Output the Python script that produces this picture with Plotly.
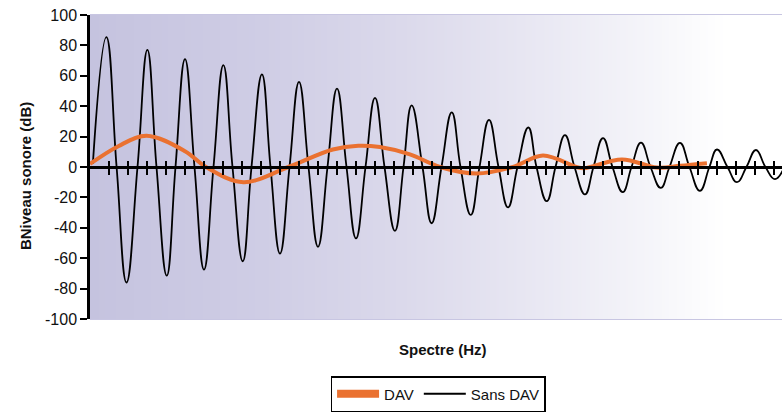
import plotly.graph_objects as go

# ---- data ----
y_tick_vals = [-100, -80, -60, -40, -20, 0, 20, 40, 60, 80, 100]
y_tick_text = ["-100", "-80", "-60", "-40", "-20", "0", "20", "40", "60", "80", "100"]
x_tick_vals = list(range(1, 37))

# "Sans DAV" (black): extrema and zero crossings
sans_x = [0.15, 0.86, 1.4, 1.92, 2.5, 3.02, 3.5, 4.04, 4.5, 5.0, 5.5, 6.0, 6.5,
          7.02, 7.5, 8.04, 8.5, 9.05, 9.5, 10.0, 10.5, 11.0, 11.5, 12.0, 12.5,
          13.0, 13.5, 14.0, 14.5, 15.0, 15.5, 16.05, 16.5, 16.93, 17.5, 17.98,
          18.5, 19.04, 19.5, 20.04, 20.5, 21.0, 21.5, 22.0, 22.5, 23.07, 23.5,
          24.04, 24.5, 25.0, 25.5, 26.05, 26.5, 27.0, 27.5, 28.04, 28.5, 29.0,
          29.5, 30.04, 30.5, 31.05, 31.55, 32.1, 32.6, 33.0, 33.55, 34.05, 34.55,
          35.05, 35.55, 36.05, 36.55]
sans_y = [2, 85.5, 0, -76, 0, 77, 0, -71.5, 0, 71, 0, -67.5, 0,
          67, 0, -62, 0, 61, 0, -57, 0, 56, 0, -52.5, 0,
          51.5, 0, -47, 0, 45.5, 0, -42, 0, 40.5, 0, -37,
          0, 36, 0, -31.5, 0, 31, 0, -26.5, 0, 26, 0,
          -22.5, 0, 21, 0, -18, 0, 19, 0, -16.5, 0, 16,
          0, -13.7, 0, 15.9, 0, -15.7, 0, 11.5, 0, -10, 0,
          11.2, 0, -8, 0]

# "DAV" (orange)
dav_x = [0.0, 1.49, 2.98, 5.0, 6.1, 8.07, 10.44, 12.78, 14.12, 15.26, 16.84,
         18.42, 20.35, 22.26, 23.84, 25.6, 26.0, 28.0, 29.84, 31.05, 32.47]
dav_y = [2, 13.7, 20.6, 10.4, 0, -10, 0, 11.5, 14, 13.1, 8.3,
         0, -4.3, 0, 7.5, 0, -0.8, 5, -0.4, 0.8, 2.5]

series_names = ["DAV", "Sans DAV"]

# background gradient stops (position along x, colour level)
bg_x = [0, 6, 12, 18, 24, 30, 36.42]
bg_level = [0.0, 0.165, 0.33, 0.494, 0.659, 0.824, 1.0]

X_MAX = 692 / 19.0
FONT = "Liberation Sans, Arial, sans-serif"
ORANGE = "#EA7130"
TXT = "#111111"

fig = go.Figure()

fig.add_trace(go.Heatmap(
    x=bg_x, y=[-100, 100], z=[bg_level, bg_level],
    zsmooth="best", showscale=False, hoverinfo="skip",
    zmin=0, zmax=1,
    colorscale=[[0.0, "#C5C3DF"], [0.25, "#CFCDE5"], [0.45, "#DBD9EB"],
                [0.65, "#E9E8F3"], [0.82, "#F6F6FA"], [0.92, "#FFFFFF"], [1.0, "#FFFFFF"]],
))

fig.add_trace(go.Scatter(
    x=sans_x, y=sans_y, mode="lines", showlegend=False,
    line=dict(color="black", width=1.8, shape="spline", smoothing=1.3),
))

fig.add_trace(go.Scatter(
    x=dav_x, y=dav_y, mode="lines", showlegend=False, xaxis="x2",
    line=dict(color=ORANGE, width=4, shape="spline", smoothing=1.0),
))

# legend entries
fig.add_trace(go.Scatter(x=[None], y=[None], mode="lines", name=series_names[0],
                         line=dict(color=ORANGE, width=8)))
fig.add_trace(go.Scatter(x=[None], y=[None], mode="lines", name=series_names[1],
                         line=dict(color="black", width=1.8)))

fig.update_layout(
    width=782, height=412,
    margin=dict(l=90, r=0, t=15, b=89),
    paper_bgcolor="white", plot_bgcolor="white",
    font=dict(family=FONT, size=15, color=TXT),
    xaxis=dict(range=[0, X_MAX], showgrid=False, zeroline=False,
               showticklabels=False, tickmode="array", tickvals=x_tick_vals,
               ticks="outside", ticklen=6, tickwidth=2, tickcolor="black",
               showline=True, linecolor="black", linewidth=2.5,
               anchor="free", position=0.5),
    xaxis2=dict(range=[0, X_MAX], overlaying="x", showgrid=False, zeroline=False,
                showticklabels=False, tickmode="array", tickvals=x_tick_vals,
                ticks="outside", ticklen=6, tickwidth=2, tickcolor="black",
                showline=False, anchor="free", position=0.5, side="top"),
    yaxis=dict(range=[-100, 100], showgrid=False, zeroline=False,
               tickmode="array", tickvals=y_tick_vals, ticktext=y_tick_text,
               ticks="outside", ticklen=7, tickwidth=2, tickcolor="black",
               showline=True, linecolor="black", linewidth=2.5,
               tickfont=dict(size=16, color=TXT)),
    legend=dict(orientation="h", x=0.503, xanchor="center", y=-0.188, yanchor="top",
                bordercolor="black", borderwidth=1.5, bgcolor="white",
                font=dict(size=15, color=TXT), itemwidth=42),
    shapes=[
        dict(type="line", xref="paper", yref="paper", x0=0, x1=1.05, y0=1, y1=1,
             line=dict(color="#C8C6E2", width=2), layer="below"),
        dict(type="line", xref="paper", yref="paper", x0=0, x1=1.05, y0=0, y1=0,
             line=dict(color="#C8C6E2", width=2), layer="below"),
    ],
    annotations=[
        dict(text="<b>Spectre (Hz)</b>", xref="paper", yref="paper",
             x=0.51, y=-0.10, xanchor="center", yanchor="middle",
             showarrow=False, font=dict(size=15, color=TXT)),
        dict(text="<b>BNiveau sonore (dB)</b>", xref="paper", yref="paper",
             x=-0.094, y=0.47, xanchor="center", yanchor="middle", textangle=-90,
             showarrow=False, font=dict(size=15, color=TXT)),
    ],
)

fig.write_html("out.html", config={"displayModeBar": False},
               post_script="document.body.style.margin='0';document.body.style.overflow='hidden';")
